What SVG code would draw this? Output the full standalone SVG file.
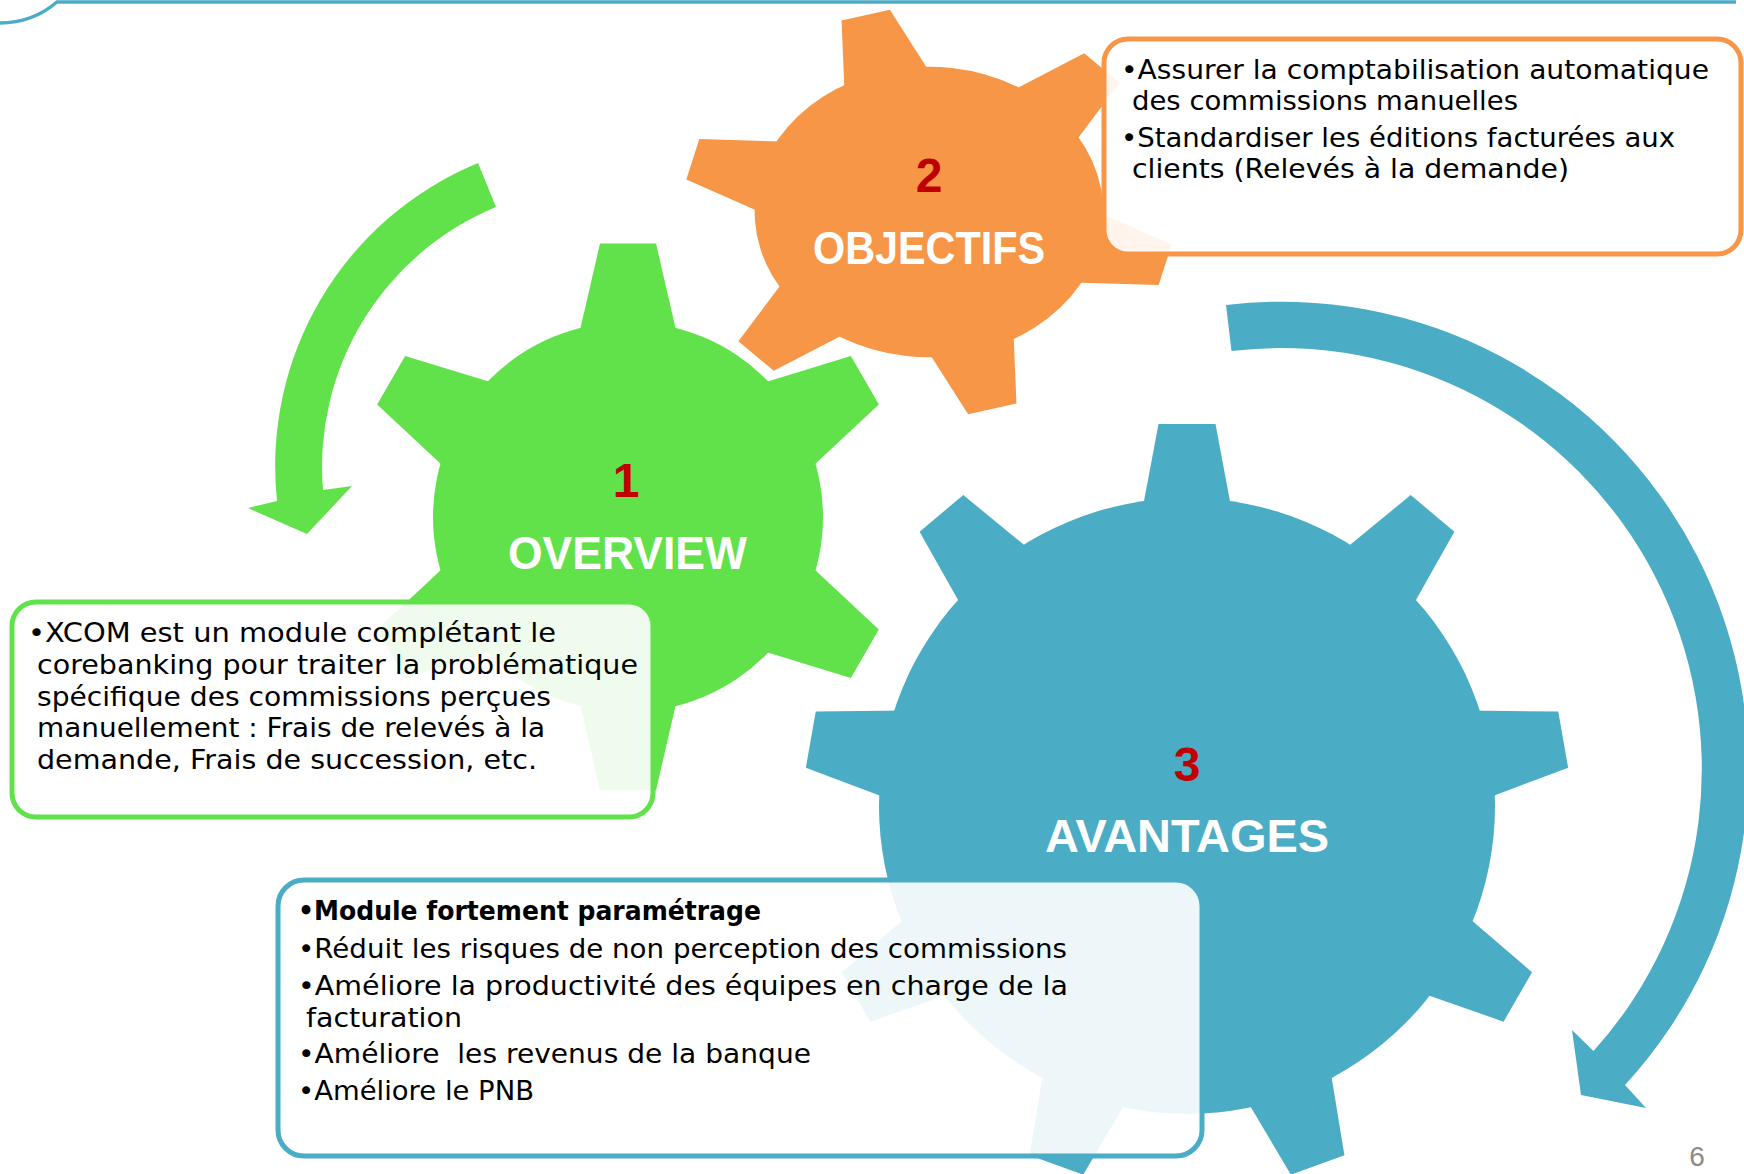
<svg xmlns="http://www.w3.org/2000/svg" width="1744" height="1174" viewBox="0 0 1744 1174">
<defs>
<style>
.txt{font-family:"DejaVu Sans","Liberation Sans",sans-serif;font-size:27px;fill:#000}
.bold{font-weight:bold}
.lbl{font-family:"Liberation Sans",Arial,sans-serif;font-weight:bold;font-size:47px;fill:#fff}
.num{font-family:"Liberation Sans",Arial,sans-serif;font-weight:bold;font-size:48px;fill:#C00000;text-anchor:middle}
.box{fill:#fff;fill-opacity:0.9;stroke-width:5}
.pg{font-family:"Liberation Sans",Arial,sans-serif;font-size:28px;fill:#8B8B8B;text-anchor:middle}
</style>
<g id="gear6">
<circle r="195"/>
<polygon id="tooth6" points="-51.9,-170 -28,-273.5 28,-273.5 51.9,-170"/>
<use href="#tooth6" transform="rotate(60)"/>
<use href="#tooth6" transform="rotate(120)"/>
<use href="#tooth6" transform="rotate(180)"/>
<use href="#tooth6" transform="rotate(240)"/>
<use href="#tooth6" transform="rotate(300)"/>
</g>
<g id="gear9">
<circle r="308"/>
<polygon id="tooth9" points="-45.8,-290 -28.5,-382 28.5,-382 45.8,-290"/>
<use href="#tooth9" transform="rotate(40)"/>
<use href="#tooth9" transform="rotate(80)"/>
<use href="#tooth9" transform="rotate(120)"/>
<use href="#tooth9" transform="rotate(160)"/>
<use href="#tooth9" transform="rotate(200)"/>
<use href="#tooth9" transform="rotate(240)"/>
<use href="#tooth9" transform="rotate(280)"/>
<use href="#tooth9" transform="rotate(320)"/>
</g>
</defs>

<g id="decor">
<path d="M1736,2 H57 A88,88 0 0 1 0,23" fill="none" stroke="#4BACC6" stroke-width="3.5"/>
</g>

<g id="connectors">
<path id="arrow-green" fill="#61E14A" d="M478,163 A328,328 0 0 0 277,501 L248,508 L307,534 L352,486 L323,490 A281,281 0 0 1 496,207 Z"/>
<path id="arrow-blue" fill="#4BACC6" d="M1226,305 A467,467 0 0 1 1625,1085 L1646,1108 L1581,1095 L1572,1030 L1593.5,1051 A421,421 0 0 0 1231.5,351 Z"/>
</g>

<g id="node-overview">
<use href="#gear6" fill="#61E14A" transform="translate(628,517)"/>
<text class="num" x="626" y="497">1</text>
<text class="lbl" x="508" y="569" textLength="239" lengthAdjust="spacingAndGlyphs">OVERVIEW</text>
<rect class="box" x="12" y="602" width="641" height="215" rx="24" stroke="#61E14A"/>
<text class="txt" x="28" y="642" textLength="528" lengthAdjust="spacingAndGlyphs">•XCOM est un module complétant le</text>
<text class="txt" x="37" y="674" textLength="601" lengthAdjust="spacingAndGlyphs">corebanking pour traiter la problématique</text>
<text class="txt" x="37" y="706" textLength="514" lengthAdjust="spacingAndGlyphs">spécifique des commissions perçues</text>
<text class="txt" x="37" y="737" textLength="508" lengthAdjust="spacingAndGlyphs">manuellement : Frais de relevés à la</text>
<text class="txt" x="37" y="769" textLength="500" lengthAdjust="spacingAndGlyphs">demande, Frais de succession, etc.</text>
</g>

<g id="node-objectifs">
<use href="#gear6" fill="#F79646" transform="translate(929,212) scale(1.2,1) scale(0.745) rotate(-15)"/>
<text class="num" x="929" y="192">2</text>
<text class="lbl" x="813" y="264" textLength="232" lengthAdjust="spacingAndGlyphs">OBJECTIFS</text>
<rect class="box" x="1104" y="39" width="637" height="215" rx="24" stroke="#F79646"/>
<text class="txt" x="1121" y="79" textLength="588" lengthAdjust="spacingAndGlyphs">•Assurer la comptabilisation automatique</text>
<text class="txt" x="1132" y="110" textLength="386" lengthAdjust="spacingAndGlyphs">des commissions manuelles</text>
<text class="txt" x="1121" y="147" textLength="554" lengthAdjust="spacingAndGlyphs">•Standardiser les éditions facturées aux</text>
<text class="txt" x="1132" y="178" textLength="437" lengthAdjust="spacingAndGlyphs">clients (Relevés à la demande)</text>
</g>

<g id="node-avantages">
<use href="#gear9" fill="#4BACC6" transform="translate(1187,806)"/>
<text class="num" x="1187" y="781">3</text>
<text class="lbl" x="1045" y="852" textLength="284" lengthAdjust="spacingAndGlyphs">AVANTAGES</text>
<rect class="box" x="278" y="880" width="924" height="276" rx="26" stroke="#4BACC6"/>
<text class="txt bold" x="298" y="920" textLength="463" lengthAdjust="spacingAndGlyphs">•Module fortement paramétrage</text>
<text class="txt" x="298" y="958" textLength="769" lengthAdjust="spacingAndGlyphs">•Réduit les risques de non perception des commissions</text>
<text class="txt" x="298" y="995" textLength="770" lengthAdjust="spacingAndGlyphs">•Améliore la productivité des équipes en charge de la</text>
<text class="txt" x="306" y="1027" textLength="156" lengthAdjust="spacingAndGlyphs">facturation</text>
<text class="txt" x="298" y="1063" textLength="513" lengthAdjust="spacingAndGlyphs" xml:space="preserve">•Améliore  les revenus de la banque</text>
<text class="txt" x="298" y="1100" textLength="236" lengthAdjust="spacingAndGlyphs">•Améliore le PNB</text>
</g>

<text class="pg" x="1697" y="1166">6</text>
</svg>
